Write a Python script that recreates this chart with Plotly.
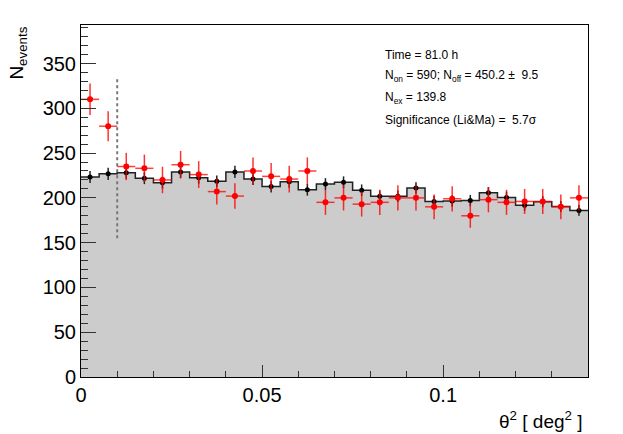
import numpy as np
import plotly.graph_objects as go

# theta^2 histogram, 28 bins of 0.005 deg^2
bin_width = 0.005
n_bins = 28
theta2_max = 0.14
cut = 0.01
cut_line_y = [155, 335]

# ON counts (red) and normalised OFF counts (black)
n_on = [310, 280, 235, 233, 220, 237, 226, 207, 202, 230, 224, 221, 230, 195,
        200, 193, 195, 200, 200, 190, 199, 180, 198, 195, 196, 196, 190, 200]
err_on = [17.6, 16.7, 15.3, 15.3, 14.8, 15.4, 15.0, 14.4, 14.2, 15.2, 15.0, 14.9, 15.2, 14.0,
          14.1, 13.9, 14.0, 14.1, 14.1, 13.8, 14.1, 13.4, 14.1, 14.0, 14.0, 14.0, 13.8, 14.1]
n_off = [223.4, 226.8, 228, 222, 217, 229, 222.5, 218.5, 229, 221, 212.6, 218, 209, 215.4,
         217.4, 208.5, 201.8, 201.8, 211, 196, 196.5, 197, 205.6, 200.5, 191.8, 195.8, 190.3, 186]
err_off = [6.7, 6.8, 6.8, 6.7, 6.6, 6.8, 6.7, 6.6, 6.8, 6.7, 6.5, 6.6, 6.5, 6.6,
           6.6, 6.5, 6.4, 6.4, 6.5, 6.3, 6.3, 6.3, 6.4, 6.3, 6.2, 6.3, 6.2, 6.1]

info_lines = [
    "Time = 81.0 h",
    "N<sub>on</sub> = 590; N<sub>off</sub> = 450.2 \u00b1 \u00a09.5",
    "N<sub>ex</sub> = 139.8",
    "Significance (Li&amp;Ma) = \u00a05.7\u03c3",
]

edges = np.arange(n_bins + 1) * bin_width
centers = edges[:-1] + bin_width / 2

fig = go.Figure()

# OFF histogram as a filled step
fig.add_trace(go.Scatter(
    x=list(edges),
    y=n_off + [n_off[-1]],
    mode="lines",
    line=dict(shape="hv", color="#222222", width=1.5),
    fill="tozeroy",
    fillcolor="#cccccc",
    hoverinfo="skip",
    showlegend=False,
))

# OFF points
fig.add_trace(go.Scatter(
    x=centers,
    y=n_off,
    mode="markers",
    marker=dict(size=5, color="black"),
    error_y=dict(type="data", array=err_off, color="#222222", thickness=1.5, width=0),
    showlegend=False,
))

# cut line
fig.add_trace(go.Scatter(
    x=[cut, cut],
    y=cut_line_y,
    mode="lines",
    line=dict(color="#777777", width=2, dash="dot"),
    hoverinfo="skip",
    showlegend=False,
))

# ON points
fig.add_trace(go.Scatter(
    x=centers,
    y=n_on,
    mode="markers",
    marker=dict(size=6, color="red"),
    error_y=dict(type="data", array=err_on, color="rgba(255,0,0,0.8)", thickness=1.5, width=0),
    error_x=dict(type="constant", value=bin_width / 2, color="rgba(255,0,0,0.75)", thickness=1.5, width=0),
    showlegend=False,
))

annotations = [
    dict(text="N<sub>events</sub>", textangle=-90, xref="paper", yref="paper",
         x=-0.126, y=1.0, xanchor="center", yanchor="top", showarrow=False,
         font=dict(size=19)),
    dict(text="\u03b8<sup>2</sup> [ deg<sup>2</sup> ]", xref="paper", yref="paper",
         x=0.995, y=-0.122, xanchor="right", yanchor="middle", showarrow=False,
         font=dict(size=19)),
]
for line, ypos in zip(info_lines, [0.915, 0.855, 0.793, 0.730]):
    annotations.append(dict(text=line, xref="paper", yref="paper", x=0.596, y=ypos,
                            xanchor="left", yanchor="middle", showarrow=False,
                            font=dict(size=12)))

# page body has an 8px margin, so plot area offsets are reduced by 8
fig.update_layout(
    width=623,
    height=434,
    margin=dict(l=73, r=43, t=17, b=65),
    plot_bgcolor="white",
    paper_bgcolor="white",
    font=dict(family="Liberation Sans, Arial, sans-serif", color="black", size=20),
    annotations=annotations,
    xaxis=dict(
        range=[0, theta2_max],
        tickvals=[0, 0.05, 0.1],
        ticktext=["0", "0.05", "0.1"],
        ticks="inside", ticklen=12, tickcolor="#333", tickwidth=1,
        minor=dict(dtick=0.01, ticks="inside", ticklen=6, tickcolor="#333"),
        showgrid=False, zeroline=False,
        showline=True, linecolor="black", linewidth=1, mirror=True,
    ),
    yaxis=dict(
        range=[0, 393],
        dtick=50,
        ticks="inside", ticklen=15, tickcolor="#333", tickwidth=1,
        minor=dict(dtick=10, ticks="inside", ticklen=7, tickcolor="#333"),
        showgrid=False, zeroline=False,
        showline=True, linecolor="black", linewidth=1, mirror=True,
    ),
)

fig.write_html("out.html")
